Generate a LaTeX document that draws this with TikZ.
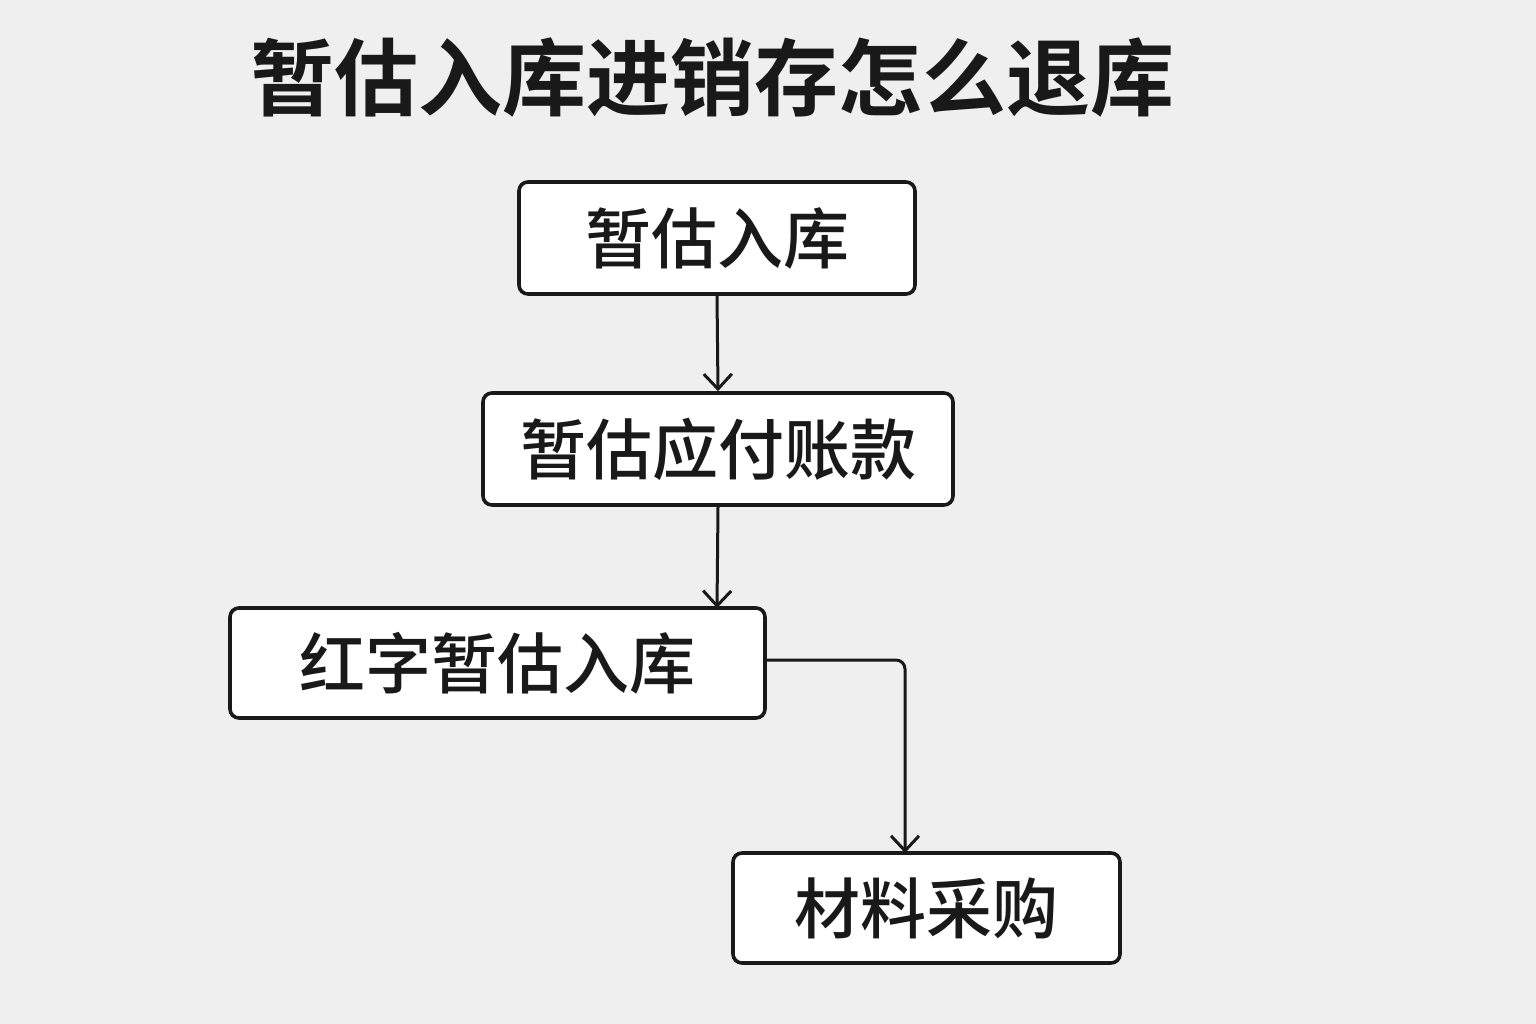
\documentclass[tikz,border=0pt]{standalone}
\usepackage{fontspec}
\newfontfamily\cjk{Noto Sans CJK SC Medium}
\newfontfamily\cjkb{Noto Sans CJK SC Bold}
\usetikzlibrary{arrows.meta}
\begin{document}
\begin{tikzpicture}[x=1pt,y=-1pt,
  box/.style={draw=black!90,line width=3.6pt,rounded corners=9pt,fill=white,inner sep=0pt,font=\cjk\fontsize{66}{66}\selectfont,text=black!90},
  arr/.style={draw=black!90,line width=3pt,-{Straight Barb[length=15pt,width=28pt,line width=3pt]},rounded corners=9pt}]
\fill[fill={rgb,255:red,239;green,239;blue,239}] (0,0) rectangle (1536,1024);
\useasboundingbox (0,0) rectangle (1536,1024);
\node[font=\cjkb\fontsize{84}{84}\selectfont,text=black!90] (title) at (712,78) {暂估入库进销存怎么退库};
\node[box,minimum width=396pt,minimum height=112pt] (b1) at (717,238) {暂估入库};
\node[box,minimum width=470pt,minimum height=112pt] (b2) at (718,449) {暂估应付账款};
\node[box,minimum width=535pt,minimum height=110pt] (b3) at (497.5,663) {红字暂估入库\hspace{22pt}};
\node[box,minimum width=387pt,minimum height=110pt] (b4) at (926.5,908) {材料采购};
\draw[arr] (b1.south) -- (b2.north);
\draw[arr] (b2.south) -- (717,608);
\draw[arr] (b3.east |- 0,660) -- (905,660) -- (905,853);
\end{tikzpicture}
\end{document}
